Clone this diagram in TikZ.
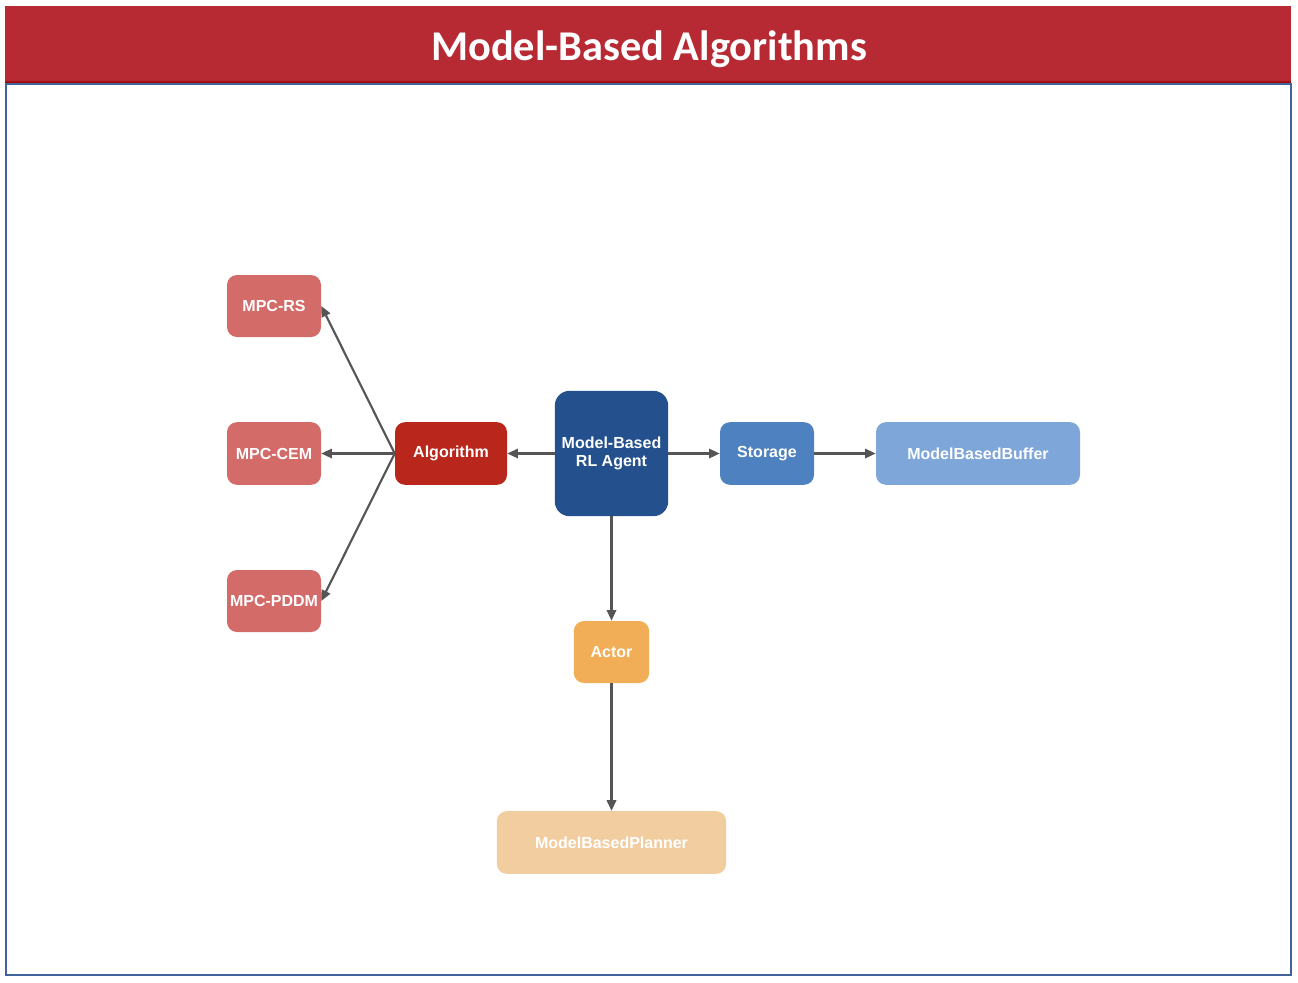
\documentclass[tikz,border=0pt]{standalone}
\usepackage{fontspec}
\setmainfont{Liberation Sans}
\newfontfamily\titlefont{Carlito}
\usetikzlibrary{arrows.meta}
\definecolor{titlered}{HTML}{B82A33}
\definecolor{framblue}{HTML}{41639C}
\definecolor{mpcred}{HTML}{D36B69}
\definecolor{algred}{HTML}{B8261C}
\definecolor{agentblue}{HTML}{24518D}
\definecolor{storblue}{HTML}{4E81BF}
\definecolor{bufblue}{HTML}{7EA6D8}
\definecolor{actorange}{HTML}{F2AE57}
\definecolor{planorange}{HTML}{F1CDA0}
\definecolor{arrgray}{HTML}{555555}
\tikzset{
  box/.style={rounded corners=7.5pt, inner sep=0pt, align=center, text=white,
    font=\bfseries\fontsize{12}{14}\selectfont},
  conn/.style={draw=arrgray, line width=1.6pt, -{Triangle[length=8pt,width=7pt]}}
}
\begin{document}
\begin{tikzpicture}[x=0.75pt,y=-0.75pt]
\useasboundingbox (0,0) rectangle (1298,982);
% frame
\draw[framblue, line width=1.3pt] (6,84) rectangle (1291,975);
% title band
\fill[titlered] (5,6) rectangle (1291,82);
\draw[draw=red!60!black!70!titlered, line width=1pt] (5,82) -- (1291,82);
\node[text=white, font=\titlefont\bfseries\fontsize{31.8}{36}\selectfont] (title) at (649,49) {Model-Based Algorithms};
% nodes
\node[box, fill=mpcred, minimum width=70.5pt, minimum height=46.5pt] (rs) at (274,306) {MPC-RS};
\node[box, fill=mpcred, minimum width=70.5pt, minimum height=47pt] (cem) at (274,453.5) {MPC-CEM};
\node[box, fill=mpcred, minimum width=70.5pt, minimum height=46.5pt] (pddm) at (274,601) {MPC-PDDM};
\node[box, fill=algred, minimum width=84pt, minimum height=47pt] (alg) at (451,453.5) {Algorithm};
\node[box, fill=agentblue, rounded corners=11pt, minimum width=85pt, minimum height=94pt] (agent) at (611.5,453.5) {Model-Based\\[-0.5pt]RL Agent};
\node[box, fill=storblue, minimum width=70.5pt, minimum height=47pt] (stor) at (767,453.5) {Storage};
\node[box, fill=bufblue, minimum width=153pt, minimum height=47pt] (buf) at (978,453.5) {ModelBasedBuffer};
\node[box, fill=actorange, minimum width=56.5pt, minimum height=46.5pt] (actor) at (611.5,652) {Actor};
\node[box, fill=planorange, minimum width=172pt, minimum height=47pt] (plan) at (611.5,842.5) {ModelBasedPlanner};
% connectors
\draw[conn] (agent.west) -- (alg.east);
\draw[conn] (alg.west) -- (rs.east);
\draw[conn] (alg.west) -- (cem.east);
\draw[conn] (alg.west) -- (pddm.east);
\draw[conn] (agent.east) -- (stor.west);
\draw[conn] (stor.east) -- (buf.west);
\draw[conn] (agent.south) -- (actor.north);
\draw[conn] (actor.south) -- (plan.north);
\end{tikzpicture}
\end{document}
